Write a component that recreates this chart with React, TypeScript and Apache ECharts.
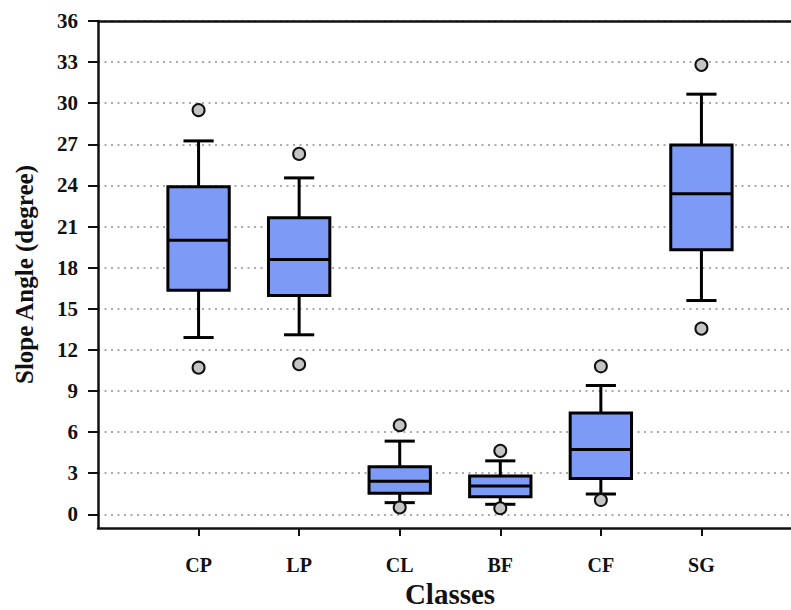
import React, { useEffect, useRef } from "react";
import * as echarts from "echarts";

const categories = ["CP", "LP", "CL", "BF", "CF", "SG"];
const whiskerLow = [12.9, 13.1, 0.85, 0.73, 1.48, 15.6];
const q1 = [16.35, 15.97, 1.53, 1.28, 2.62, 19.3];
const median = [20.0, 18.6, 2.42, 2.06, 4.73, 23.4];
const q3 = [23.9, 21.65, 3.47, 2.79, 7.4, 26.95];
const whiskerHigh = [27.25, 24.55, 5.34, 3.9, 9.4, 30.66];
const outlierLow = [10.7, 10.95, 0.5, 0.44, 1.04, 13.55];
const outlierHigh = [29.5, 26.3, 6.5, 4.63, 10.8, 32.8];
const yTicks = [0, 3, 6, 9, 12, 15, 18, 21, 24, 27, 30, 33, 36];
const xTicks = [1, 2, 3, 4, 5, 6];

const FONT = "Liberation Serif";

export default function App() {
  const ref = useRef<HTMLDivElement>(null);
  useEffect(() => {
    if (!ref.current) return;
    const chart = echarts.init(ref.current, null, { renderer: "svg" });
    const boxData = categories.map((_, i) => [
      i + 1,
      whiskerLow[i],
      q1[i],
      median[i],
      q3[i],
      whiskerHigh[i],
    ]);
    const outData: number[][] = [];
    categories.forEach((_, i) => {
      outData.push([i + 1, outlierLow[i]]);
      outData.push([i + 1, outlierHigh[i]]);
    });
    const lineStyle = { stroke: "#000", lineWidth: 3 };
    chart.setOption({
      animation: false,
      backgroundColor: "#fff",
      grid: { left: 98, right: -11, top: 21, bottom: 82, containLabel: false, outerBoundsMode: "none" },
      xAxis: [
        {
          type: "value",
          min: 0,
          max: 7,
          position: "bottom",
          name: "Classes",
          nameLocation: "middle",
          nameGap: 48,
          nameTextStyle: { fontFamily: FONT, fontWeight: "bold", fontSize: 29, color: "#111" },
          axisLine: { show: true, onZero: false, lineStyle: { color: "#111", width: 2.5 } },
          axisTick: { show: true, length: 8, customValues: xTicks, lineStyle: { color: "#111", width: 2 } },
          axisLabel: {
            show: true,
            customValues: xTicks,
            margin: 27,
            fontFamily: FONT,
            fontWeight: "bold",
            fontSize: 20,
            color: "#111",
            formatter: (v: number) => categories[Math.round(v) - 1] ?? "",
          },
          splitLine: { show: false },
        },
        {
          type: "value",
          min: 0,
          max: 7,
          position: "top",
          axisLine: { show: true, onZero: false, lineStyle: { color: "#111", width: 2.5 } },
          axisTick: { show: false },
          axisLabel: { show: false },
          splitLine: { show: false },
        },
      ],
      yAxis: {
        type: "value",
        min: -1,
        max: 36,
        name: "Slope Angle (degree)",
        nameLocation: "middle",
        nameGap: 61,
        nameTextStyle: { fontFamily: FONT, fontWeight: "bold", fontSize: 25, color: "#111" },
        axisLine: { show: true, onZero: false, lineStyle: { color: "#111", width: 2.5 } },
        axisTick: { show: true, length: 10, customValues: yTicks, lineStyle: { color: "#111", width: 2 } },
        axisLabel: {
          show: true,
          customValues: yTicks,
          margin: 20,
          fontFamily: FONT,
          fontWeight: "bold",
          fontSize: 21,
          color: "#111",
        },
        splitLine: {
          show: true,
          lineStyle: { color: "#ababab", width: 2, type: [2, 4.5] },
        },
      },
      series: [
        {
          type: "custom",
          xAxisIndex: 0,
          encode: { x: 0, y: [1, 2, 3, 4, 5] },
          data: boxData,
          z: 3,
          renderItem: (params: any, api: any) => {
            const x = api.value(0);
            const band = api.size([1, 0])[0];
            const boxW = band * 0.61;
            const capW = band * 0.3;
            const pLow = api.coord([x, api.value(1)]);
            const pQ1 = api.coord([x, api.value(2)]);
            const pMed = api.coord([x, api.value(3)]);
            const pQ3 = api.coord([x, api.value(4)]);
            const pHigh = api.coord([x, api.value(5)]);
            const cx = pMed[0];
            return {
              type: "group",
              children: [
                { type: "line", shape: { x1: cx, y1: pQ3[1], x2: cx, y2: pHigh[1] }, style: lineStyle },
                { type: "line", shape: { x1: cx, y1: pQ1[1], x2: cx, y2: pLow[1] }, style: lineStyle },
                { type: "line", shape: { x1: cx - capW / 2, y1: pHigh[1], x2: cx + capW / 2, y2: pHigh[1] }, style: lineStyle },
                { type: "line", shape: { x1: cx - capW / 2, y1: pLow[1], x2: cx + capW / 2, y2: pLow[1] }, style: lineStyle },
                {
                  type: "rect",
                  shape: { x: cx - boxW / 2, y: pQ3[1], width: boxW, height: pQ1[1] - pQ3[1] },
                  style: { fill: "#7d9bf6", stroke: "#000", lineWidth: 3 },
                },
                { type: "line", shape: { x1: cx - boxW / 2, y1: pMed[1], x2: cx + boxW / 2, y2: pMed[1] }, style: lineStyle },
              ],
            };
          },
        },
        {
          type: "scatter",
          xAxisIndex: 0,
          data: outData,
          symbol: "circle",
          symbolSize: 12,
          z: 4,
          itemStyle: { color: "#c4c4c4", borderColor: "#111", borderWidth: 2, opacity: 1 },
        },
      ],
    });
    return () => chart.dispose();
  }, []);
  return <div ref={ref} style={{ width: 791, height: 610, position: "absolute", left: 0, top: 0 }} />;
}
